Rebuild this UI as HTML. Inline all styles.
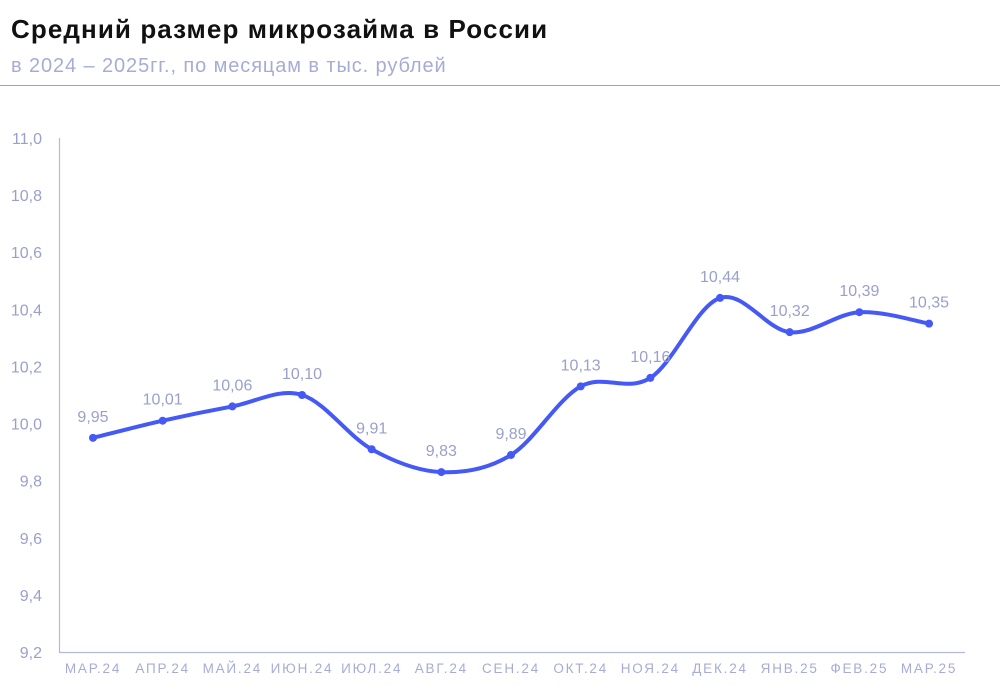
<!DOCTYPE html>
<html><head><meta charset="utf-8"><style>
body{margin:0;width:1000px;height:695px;background:#fff;overflow:hidden;font-family:"Liberation Sans",sans-serif}
.t{position:absolute;left:11px;top:14px;font-size:26px;font-weight:bold;color:#111;letter-spacing:1.1px}
.s{position:absolute;left:11px;top:55px;font-size:20px;color:#a6acd6;letter-spacing:0.9px}
.hr{position:absolute;left:0;top:85px;width:1000px;height:1px;background:#9aa0c8}
</style></head><body>
<div class="t">Средний размер микрозайма в России</div>
<div class="s">в 2024 – 2025гг., по месяцам в тыс. рублей</div>
<div class="hr"></div>
<svg id="c" width="1000" height="695" style="position:absolute;left:0;top:0"></svg>
<script>
const svg=document.getElementById('c');
const vals=[9.95,10.01,10.06,10.10,9.91,9.83,9.89,10.13,10.16,10.44,10.32,10.39,10.35];
const labs=['МАР.24','АПР.24','МАЙ.24','ИЮН.24','ИЮЛ.24','АВГ.24','СЕН.24','ОКТ.24','НОЯ.24','ДЕК.24','ЯНВ.25','ФЕВ.25','МАР.25'];
const Y=v=>138+(11-v)*285.56, X=i=>93+69.67*i;
let h='<line x1="59.5" y1="138" x2="59.5" y2="652.5" stroke="#b4b8e0" stroke-width="1.2"/><line x1="59" y1="652.5" x2="965" y2="652.5" stroke="#b4b8e0" stroke-width="1.2"/>';
for(let k=0;k<=9;k++){const v=11-0.2*k;h+=`<text x="42" y="${138+k*57.11+6}" text-anchor="end" font-size="16" fill="#9aa0cc">${v.toFixed(1).replace('.',',')}</text>`;}
labs.forEach((l,i)=>h+=`<text x="${X(i)}" y="673" text-anchor="middle" font-size="13.5" letter-spacing="1.8" fill="#a6acd6">${l}</text>`);
const p=vals.map((v,i)=>[X(i),Y(v)]);
let d=`M${p[0][0]},${p[0][1]}`;
for(let i=0;i<p.length-1;i++){const a=p[i-1]||p[i],b=p[i],c=p[i+1],e=p[i+2]||c;
d+=` C${b[0]+(c[0]-a[0])/6},${b[1]+(c[1]-a[1])/6} ${c[0]-(e[0]-b[0])/6},${c[1]-(e[1]-b[1])/6} ${c[0]},${c[1]}`;}
h+=`<path d="${d}" fill="none" stroke="#4459f5" stroke-width="4"/>`;
p.forEach((q,i)=>{h+=`<circle cx="${q[0]}" cy="${q[1]}" r="4" fill="#4459f5"/><text x="${q[0]}" y="${q[1]-16}" text-anchor="middle" font-size="16" fill="#9aa0cc">${vals[i].toFixed(2).replace('.',',')}</text>`;});
svg.innerHTML=h;
</script>
</body></html>
